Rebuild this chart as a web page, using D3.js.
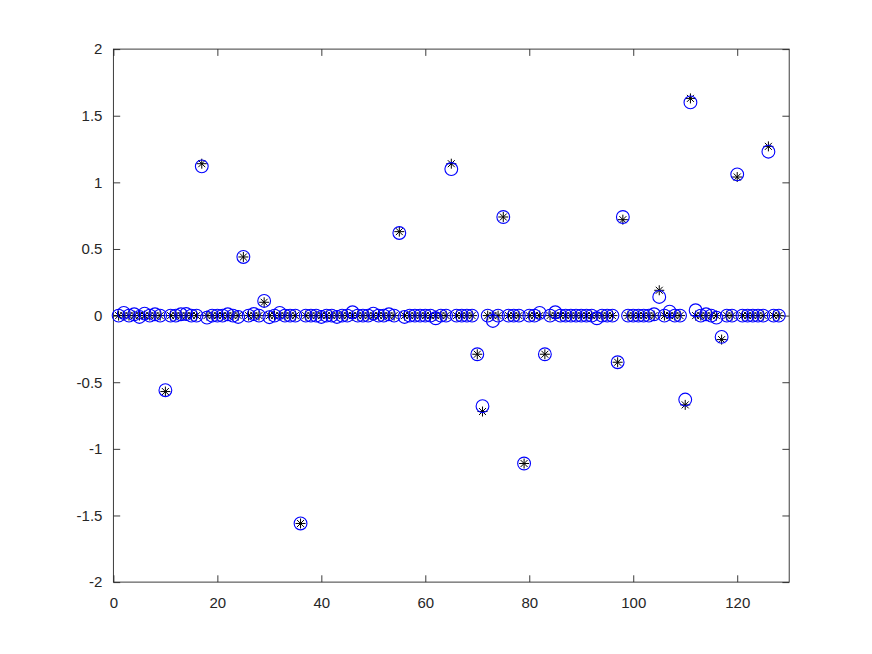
<!DOCTYPE html>
<html>
<head>
<meta charset="utf-8">
<script src="https://cdn.jsdelivr.net/npm/d3@7"></script>
<style>
  body { margin: 0; background: #fff; overflow: hidden; }
  svg { display: block; }
</style>
</head>
<body>
<div id="chart"></div>
<script>
// signal length
var N = 128;

// nonzero entries of the original signal (black *) and the recovered one (blue o)
var spikeIndex     = [10, 17, 25, 29, 36, 55, 65, 70, 71, 75, 79, 83, 97, 98, 105, 110, 111, 117, 120, 126];
var spikeTrue      = [-0.57, 1.14, 0.44, 0.10, -1.56, 0.63, 1.14, -0.29, -0.72, 0.74, -1.11, -0.29, -0.35, 0.72, 0.19, -0.67, 1.63, -0.18, 1.04, 1.27];
var spikeRecovered = [-0.56, 1.12, 0.44, 0.11, -1.56, 0.62, 1.10, -0.29, -0.68, 0.74, -1.11, -0.29, -0.35, 0.74, 0.14, -0.63, 1.60, -0.16, 1.06, 1.23];

// small leftovers of the recovered signal where the original is zero
var noiseIndex = [2, 4, 5, 6, 8, 13, 14, 18, 22, 24, 27, 30, 32, 40, 43, 46, 50, 53, 56, 62, 73, 82, 85, 93, 104, 107, 112, 114, 116];
var noiseValue = [0.02, 0.01, -0.01, 0.015, 0.01, 0.01, 0.012, -0.015, 0.01, -0.01, 0.012, -0.012, 0.02, -0.01, -0.01, 0.025, 0.015, 0.01, -0.01, -0.02, -0.04, 0.02, 0.025, -0.02, 0.01, 0.03, 0.04, 0.01, -0.015];

var xTicks = [0, 20, 40, 60, 80, 100, 120];
var yTicks = [-2, -1.5, -1, -0.5, 0, 0.5, 1, 1.5, 2];

(function () {
    var width = 872, height = 654;
    var pLeft = 113.4, pRight = 789.2, pTop = 49.1, pBottom = 582.1;

    var data = d3.range(1, N + 1).map(function (i) {
        return { i: i, t: 0, r: 0 };
    });
    spikeIndex.forEach(function (k, j) {
        data[k - 1].t = spikeTrue[j];
        data[k - 1].r = spikeRecovered[j];
    });
    noiseIndex.forEach(function (k, j) {
        data[k - 1].r = noiseValue[j];
    });

    var x = d3.scaleLinear().domain([0, 130]).range([pLeft, pRight]);
    var y = d3.scaleLinear().domain([-2, 2]).range([pBottom, pTop]);

    var svg = d3.select("#chart").append("svg")
        .attr("width", width)
        .attr("height", height)
        .style("font-family", "'Liberation Sans', Arial, sans-serif");

    var axisColor = "#262626";
    var tickLen = 6.8;

    // ticks inward on all four sides, like matlab with box on
    var gx = svg.append("g").attr("transform", "translate(0," + pBottom + ")")
        .call(d3.axisBottom(x).tickValues(xTicks).tickSizeInner(-tickLen).tickSizeOuter(0).tickPadding(15));
    var gxTop = svg.append("g").attr("transform", "translate(0," + pTop + ")")
        .call(d3.axisTop(x).tickValues(xTicks).tickSizeInner(-tickLen).tickSizeOuter(0).tickFormat(""));
    var gy = svg.append("g").attr("transform", "translate(" + pLeft + ",0)")
        .call(d3.axisLeft(y).tickValues(yTicks).tickSizeInner(-tickLen).tickSizeOuter(0).tickPadding(11)
            .tickFormat(function (d) { return String(d); }));
    var gyRight = svg.append("g").attr("transform", "translate(" + pRight + ",0)")
        .call(d3.axisRight(y).tickValues(yTicks).tickSizeInner(-tickLen).tickSizeOuter(0).tickFormat(""));

    [gx, gxTop, gy, gyRight].forEach(function (g) {
        g.select(".domain").remove();
        g.selectAll("line").attr("stroke", axisColor).attr("stroke-width", 0.9);
        g.selectAll("text").attr("fill", axisColor).style("font-size", "15px");
    });

    svg.append("rect")
        .attr("x", pLeft).attr("y", pTop)
        .attr("width", pRight - pLeft).attr("height", pBottom - pTop)
        .attr("fill", "none")
        .attr("stroke", axisColor)
        .attr("stroke-width", 0.9);

    // original: black asterisks
    var s = 5;
    var star = "M" + (-s) + ",0L" + s + ",0M0," + (-s) + "L0," + s +
        "M" + (-s * 0.7) + "," + (-s * 0.7) + "L" + (s * 0.7) + "," + (s * 0.7) +
        "M" + (-s * 0.7) + "," + (s * 0.7) + "L" + (s * 0.7) + "," + (-s * 0.7);

    svg.append("g").selectAll("path")
        .data(data)
        .enter().append("path")
        .attr("d", star)
        .attr("transform", function (d) { return "translate(" + x(d.i) + "," + y(d.t) + ")"; })
        .attr("stroke", "#000")
        .attr("stroke-width", 1)
        .attr("fill", "none");

    // recovered: blue circles
    svg.append("g").selectAll("circle")
        .data(data)
        .enter().append("circle")
        .attr("cx", function (d) { return x(d.i); })
        .attr("cy", function (d) { return y(d.r); })
        .attr("r", 6.4)
        .attr("fill", "none")
        .attr("stroke", "#0000ff")
        .attr("stroke-width", 1.1);
})();
</script>
</body>
</html>
